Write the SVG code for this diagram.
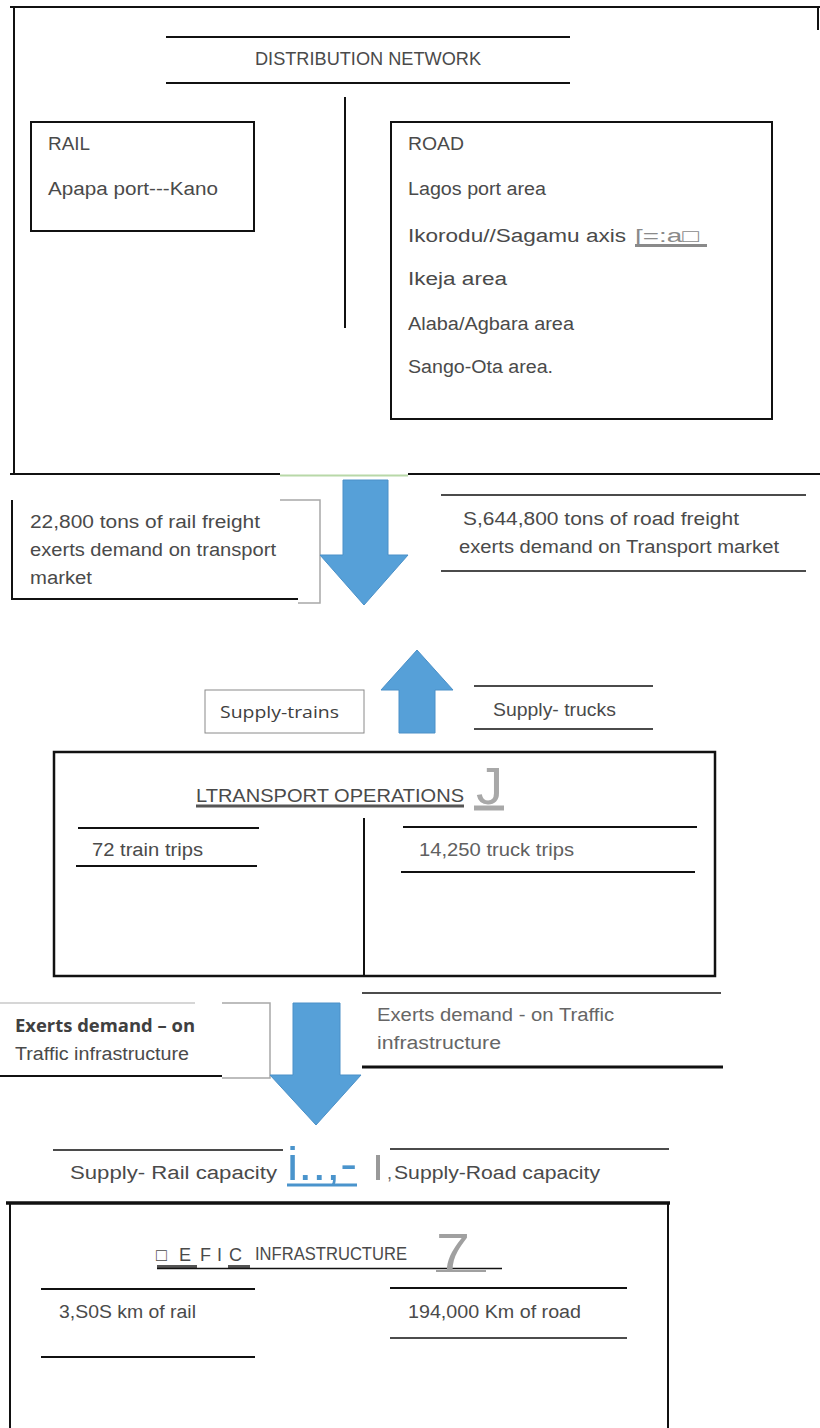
<svg xmlns="http://www.w3.org/2000/svg" width="820" height="1428" viewBox="0 0 820 1428">
<style>
.t{font-family:"Liberation Sans",Arial,sans-serif;font-size:18px;fill:#4a4a4a}
.c{font-family:"Open Sans","Liberation Sans",sans-serif;font-size:17px;fill:#404040}
.ln{stroke:#111;stroke-width:2;fill:none}
.lt{stroke:#111;stroke-width:1.5;fill:none}
.g{stroke:#a8a8a8;stroke-width:1.5;fill:none}
.ar{fill:#56a0d8;stroke:#4a90c8;stroke-width:1}
</style>
<rect width="820" height="1428" fill="#fff"/>

<g id="distribution-network">
  <path class="ln" d="M10 7H820M14 7V475M818 7V30M10 474H280M408 474H820"/>
  <path d="M280 475.5H408" stroke="#b8d8a8" stroke-width="2"/>
  <path class="ln" d="M166 37H570M166 83H570M345 97V328"/>
  <text class="t" x="255" y="65" font-size="17" textLength="226" lengthAdjust="spacingAndGlyphs">DISTRIBUTION NETWORK</text>
</g>

<g id="rail">
  <rect class="ln" x="31" y="122" width="223" height="109"/>
  <text class="t" x="48" y="150" textLength="42" lengthAdjust="spacingAndGlyphs">RAIL</text>
  <text class="t" x="48" y="195" textLength="170" lengthAdjust="spacingAndGlyphs">Apapa  port---Kano</text>
</g>

<g id="road">
  <rect class="ln" x="391" y="122" width="381" height="297"/>
  <text class="t" x="408" y="150" textLength="56" lengthAdjust="spacingAndGlyphs">ROAD</text>
  <text class="t" x="408" y="195" textLength="138" lengthAdjust="spacingAndGlyphs">Lagos port area</text>
  <text class="t" x="408" y="242" textLength="218" lengthAdjust="spacingAndGlyphs">Ikorodu//Sagamu axis</text>
  <text class="t" x="635" y="242" style="fill:#8a8a8a" textLength="64" lengthAdjust="spacingAndGlyphs">[=:a□</text>
  <path d="M635 245.5H707" stroke="#8a8a8a" stroke-width="3"/>
  <text class="t" x="408" y="285" textLength="99" lengthAdjust="spacingAndGlyphs">Ikeja area</text>
  <text class="t" x="408" y="330" textLength="166" lengthAdjust="spacingAndGlyphs">Alaba/Agbara area</text>
  <text class="t" x="408" y="373" textLength="145" lengthAdjust="spacingAndGlyphs">Sango-Ota area.</text>
</g>

<g id="rail-demand">
  <path class="ln" d="M12 500V600M12 599H298"/>
  <path class="g" d="M280 500H320V603H298"/>
  <text class="t" x="30" y="528" textLength="230" lengthAdjust="spacingAndGlyphs">22,800 tons of rail freight</text>
  <text class="t" x="30" y="556" textLength="246" lengthAdjust="spacingAndGlyphs">exerts demand on transport</text>
  <text class="t" x="30" y="584" textLength="62" lengthAdjust="spacingAndGlyphs">market</text>
</g>

<g id="road-demand">
  <path class="lt" d="M441 495H806M441 571H806"/>
  <text class="t" x="463" y="525" textLength="276" lengthAdjust="spacingAndGlyphs">S,644,800 tons of  road freight</text>
  <text class="t" x="459" y="553" textLength="320" lengthAdjust="spacingAndGlyphs">exerts demand on Transport market</text>
</g>

<g id="supply-trains">
  <rect x="205" y="690" width="159" height="43" fill="#fff" stroke="#8a8a8a" stroke-width="1"/>
  <text class="c" x="220" y="718" textLength="119" lengthAdjust="spacingAndGlyphs">Supply-trains</text>
</g>

<g id="supply-trucks">
  <path class="lt" d="M474 686H653M474 729H653"/>
  <text class="t" x="493" y="716" textLength="123" lengthAdjust="spacingAndGlyphs">Supply- trucks</text>
</g>

<g id="transport-operations">
  <rect x="54" y="752" width="661" height="224" fill="none" stroke="#111" stroke-width="2.5"/>
  <path class="ln" d="M364 818V976"/>
  <text class="t" x="196" y="802" textLength="268" lengthAdjust="spacingAndGlyphs">LTRANSPORT OPERATIONS</text>
  <path d="M196 806H464" stroke="#555" stroke-width="3"/>
  <text x="476" y="804" font-family="Liberation Sans,sans-serif" font-size="52" fill="#a8a8a8" textLength="27" lengthAdjust="spacingAndGlyphs">J</text>
  <path d="M474 808H504" stroke="#a8a8a8" stroke-width="5"/>
  <path class="ln" d="M78 828H259M76 866H257M403 827H697M401 872H695"/>
  <text class="t" x="92" y="856" textLength="111" lengthAdjust="spacingAndGlyphs">72 train trips</text>
  <text class="t" x="419" y="856" textLength="155" lengthAdjust="spacingAndGlyphs" style="fill:#606060">14,250 truck trips</text>
</g>

<g id="rail-traffic-demand">
  <path d="M0 1003H195" stroke="#c8c8c8" stroke-width="1.5"/>
  <path class="g" d="M222 1003H270V1078H222"/>
  <path class="ln" d="M0 1076H222"/>
  <text class="c" x="15" y="1032" font-weight="bold" textLength="180" lengthAdjust="spacingAndGlyphs">Exerts demand – on</text>
  <text class="t" x="15" y="1060" textLength="174" lengthAdjust="spacingAndGlyphs">Traffic infrastructure</text>
</g>

<g id="road-traffic-demand">
  <path class="lt" d="M362 993H721"/>
  <path d="M362 1067H723" stroke="#111" stroke-width="3"/>
  <text class="t" x="377" y="1021" textLength="237" lengthAdjust="spacingAndGlyphs" style="fill:#666">Exerts demand -  on Traffic</text>
  <text class="t" x="377" y="1049" textLength="124" lengthAdjust="spacingAndGlyphs" style="fill:#666">infrastructure</text>
</g>

<g id="supply-capacity">
  <path class="lt" d="M53 1150H283M390 1149H669"/>
  <text class="t" x="70" y="1179" textLength="207" lengthAdjust="spacingAndGlyphs">Supply- Rail  capacity</text>
  <text x="287" y="1180" font-family="Liberation Sans,sans-serif" font-size="46" fill="#4a94cc" textLength="70" lengthAdjust="spacingAndGlyphs">i..,-</text>
  <path d="M287 1185H357" stroke="#4a94cc" stroke-width="3"/>
  <rect x="376" y="1155" width="4" height="25" fill="#999"/>
  <text class="t" x="387" y="1179" font-size="10" style="fill:#666">,</text>
  <text class="t" x="394" y="1179" textLength="206" lengthAdjust="spacingAndGlyphs">Supply-Road capacity</text>
</g>

<g id="traffic-infrastructure">
  <path d="M6 1203H670" stroke="#111" stroke-width="3.5"/>
  <path class="ln" d="M10 1203V1428M668 1203V1428"/>
  <text class="t" y="1261" font-size="20"><tspan x="156">□</tspan><tspan x="179">E</tspan><tspan x="200">F</tspan><tspan x="217">I</tspan><tspan x="229">C</tspan></text>
  <text class="t" x="255" y="1260" font-size="17" textLength="152" lengthAdjust="spacingAndGlyphs">INFRASTRUCTURE</text>
  <path d="M157 1266.5H197M228 1266.5H250" stroke="#555" stroke-width="3"/>
  <path d="M157 1268.5H502" stroke="#111" stroke-width="1.5"/>
  <text x="436" y="1270" font-family="Liberation Sans,sans-serif" font-size="52" fill="#a0a0a0" textLength="34" lengthAdjust="spacingAndGlyphs">7</text>
  <path d="M436 1271H486" stroke="#a0a0a0" stroke-width="2"/>
  <path class="ln" d="M41 1289H255M41 1357H255M390 1288H627"/>
  <path class="lt" d="M390 1338H627"/>
  <text class="t" x="59" y="1318" textLength="137" lengthAdjust="spacingAndGlyphs">3,S0S km of rail</text>
  <text class="t" x="408" y="1318" textLength="173" lengthAdjust="spacingAndGlyphs">194,000 Km of road</text>
</g>

<g id="connectors">
  <polygon class="ar" points="343,480 388,480 388,555 408,555 364,605 320,555 343,555"/>
  <polygon class="ar" points="399,733 435,733 435,690 453,690 417,650 381,690 399,690"/>
  <polygon class="ar" points="293,1003 340,1003 340,1075 361,1075 316,1125 270,1075 293,1075"/>
</g>
</svg>
